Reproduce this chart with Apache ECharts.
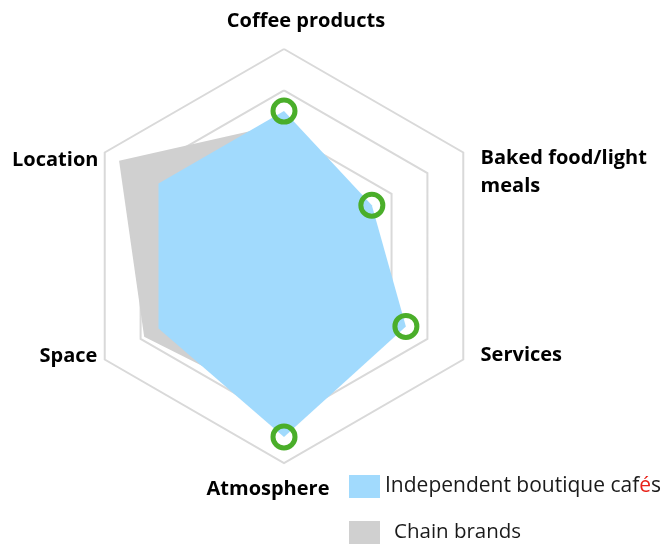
<!DOCTYPE html>
<html><head><meta charset="utf-8">
<script src="https://cdn.jsdelivr.net/npm/echarts@6/dist/echarts.min.js"></script>
<style>html,body{margin:0;padding:0;background:#fff}#c{width:661px;height:545px}</style>
</head><body><div id="c"></div>
<script>
// Categories, clockwise from the top
const categories = ['Coffee products', 'Baked food/light\nmeals', 'Services', 'Atmosphere', 'Space', 'Location'];
const seriesNames = ['Independent boutique cafés', 'Chain brands'];
const independentValues = [3.5, 2.45, 3.4, 4.37, 3.5, 3.5];
const chainValues = [3.2, 2.0, 3.0, 3.65, 3.9, 4.6];
const markedCategories = ['Coffee products', 'Baked food/light\nmeals', 'Services', 'Atmosphere'];
const axisMin = 0;
const axisMax = 5;

// Radar indicators run counter-clockwise; reorder the clockwise lists for it
const radarOrder = [0, 5, 4, 3, 2, 1];
const FONT = 'Open Sans';
const CENTER = [284, 256];
const RADIUS = 207;

const labelPad = {
  'Coffee products': [0, 0, 21, 44],
  'Services': [0, 0, 14, 13],
  'Atmosphere': [18, 32, 0, 0],
  'Space': [0, 3, 12, 0],
  'Location': [20, 2, 0, 0]
};
const rich = {};
const base = { fontFamily: FONT, fontWeight: 'bold', fontSize: 20, color: '#000', lineHeight: 24 };
Object.keys(labelPad).forEach(function (k, i) {
  rich['n' + i] = Object.assign({}, base, { padding: labelPad[k] });
});
rich.s = Object.assign({}, base, { lineHeight: 44, padding: [0, 0, 0, 13] });
rich.b = Object.assign({}, base, { lineHeight: 28, padding: [0, 0, 0, 13] });

function nameFormatter(name) {
  if (name.indexOf('\n') >= 0) {
    const parts = name.split('\n');
    return '{s|\u00a0}\n' + parts.map(function (p) { return '{b|' + p + '}'; }).join('\n');
  }
  const idx = Object.keys(labelPad).indexOf(name);
  return '{n' + idx + '|' + name + '}';
}

const chart = echarts.init(document.getElementById('c'), null, { renderer: 'canvas' });
chart.setOption({
  animation: false,
  backgroundColor: '#fff',
  radar: {
    center: CENTER,
    radius: RADIUS,
    startAngle: 90,
    shape: 'polygon',
    splitNumber: 5,
    nameGap: 5,
    indicator: radarOrder.map(function (i) { return { name: categories[i], min: axisMin, max: axisMax }; }),
    axisName: { formatter: nameFormatter, rich: rich, fontFamily: FONT, fontWeight: 'bold', fontSize: 20, color: '#000' },
    axisLine: { show: false },
    axisTick: { show: false },
    axisLabel: { show: false },
    splitArea: { show: false },
    splitLine: { lineStyle: { color: '#D9D9D9', width: 2 } }
  },
  polar: { center: CENTER, radius: RADIUS },
  angleAxis: {
    type: 'category', data: categories, startAngle: 90, clockwise: true, boundaryGap: false,
    show: false, axisLine: { show: false }, splitLine: { show: false }, axisLabel: { show: false }, axisTick: { show: false }
  },
  radiusAxis: {
    min: axisMin, max: axisMax, show: false,
    axisLine: { show: false }, splitLine: { show: false }, axisLabel: { show: false }, axisTick: { show: false }
  },
  legend: {
    orient: 'vertical', left: 349, top: 475, padding: 0,
    itemWidth: 31, itemHeight: 23, itemGap: 23, icon: 'rect',
    data: seriesNames,
    formatter: function (name) {
      if (name === seriesNames[0]) return name.replace('é', '{r|é}');
      return '{p|' + name + '}';
    },
    textStyle: {
      fontFamily: FONT, fontSize: 21, color: '#1a1a1a', lineHeight: 23,
      rich: {
        r: { fontFamily: FONT, fontSize: 21, color: '#E8231A', lineHeight: 23 },
        p: { fontFamily: FONT, fontSize: 20.5, color: '#1a1a1a', lineHeight: 23, padding: [0, 0, 0, 9] }
      }
    }
  },
  series: [
    {
      type: 'radar', name: seriesNames[1], symbol: 'none', silent: true, z: 2,
      itemStyle: { color: '#D0D0D0' },
      lineStyle: { width: 0, opacity: 0 },
      areaStyle: { color: '#D0D0D0', opacity: 1 },
      data: [{ name: seriesNames[1], value: radarOrder.map(function (i) { return chainValues[i]; }) }]
    },
    {
      type: 'radar', name: seriesNames[0], symbol: 'none', silent: true, z: 3,
      itemStyle: { color: '#A1DAFD' },
      lineStyle: { width: 0, opacity: 0 },
      areaStyle: { color: '#A1DAFD', opacity: 1 },
      data: [{ name: seriesNames[0], value: radarOrder.map(function (i) { return independentValues[i]; }) }]
    },
    {
      type: 'scatter', coordinateSystem: 'polar', z: 5, silent: true,
      symbol: 'circle', symbolSize: 22,
      itemStyle: { color: 'rgba(0,0,0,0)', borderColor: '#4AAE2A', borderWidth: 5, opacity: 1 },
      data: markedCategories.map(function (c) { return [independentValues[categories.indexOf(c)], c]; })
    }
  ]
});
</script>
</body></html>
